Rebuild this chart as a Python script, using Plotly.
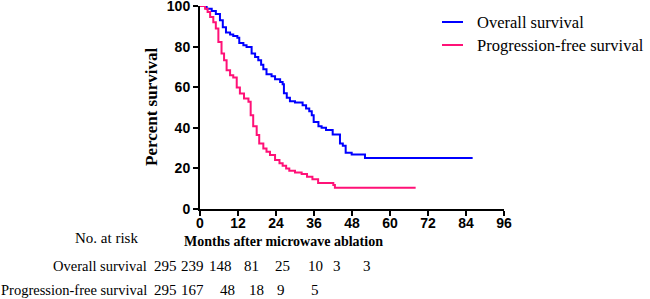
import plotly.graph_objects as go

# ---- data ----
os_months = [0, 2.1, 3.7, 5.0, 6.3, 7.2, 8.2, 9.5, 10.5, 11.8, 12.4, 13.7, 14.7, 16.3, 17.4,
             18.4, 19.3, 20.0, 21.0, 22.6, 23.7, 25.3, 26.1, 26.5, 27.4, 28.4, 30.0, 32.4,
             33.5, 34.5, 35.3, 35.9, 37.4, 38.4, 39.8, 41.9, 44.2, 45.1, 46.0, 47.9, 52.1, 86.1]
os_surv = [100, 98.7, 97.5, 96, 93, 89.5, 86.9, 86, 85.2, 84.3, 81.8, 80.7, 79.8, 76.6, 74.9,
           73.3, 71.1, 68.9, 66.4, 65.4, 63.9, 62.6, 61.5, 57, 54.8, 53.1, 52.5, 51.1,
           49.5, 48.2, 46.2, 42.9, 40.8, 40.0, 38.9, 36.7, 32.3, 31.1, 27.7, 26.9, 25.1, 25.1]

pfs_months = [0, 1.6, 2.4, 3.2, 4.2, 5.0, 5.8, 6.8, 7.6, 8.4, 9.5, 10.5, 11.6, 12.6, 13.9,
              15.3, 16.0, 16.8, 17.9, 18.7, 20.0, 21.0, 22.1, 23.7, 25.1, 26.1, 27.2, 28.2,
              30.0, 32.1, 33.8, 35.5, 37.3, 42.1, 42.6, 68.1]
pfs_surv = [100, 98.7, 97, 94.6, 92, 88.9, 82.3, 76.6, 73.3, 68.4, 65.9, 64.8, 59.8, 56.9, 54.4,
            52.8, 46.2, 40.8, 36.4, 32.3, 29.8, 28.2, 26.6, 24.1, 22.5, 21.3, 20, 18.9,
            18, 17.2, 15.9, 14.7, 12.8, 11.8, 10.5, 10.5]

x_ticks = [0, 12, 24, 36, 48, 60, 72, 84, 96]
y_ticks = [0, 20, 40, 60, 80, 100]

series_names = ["Overall survival", "Progression-free survival"]
risk_os = ["295", "239", "148", "81", "25", "10", "3", "3"]
risk_pfs = ["295", "167", "48", "18", "9", "5"]

# ---- layout constants (pixels) ----
W, H = 650, 299
L, R, T, B = 200, 146, 6, 90
PW, PH = W - L - R, H - T - B
os_cols = [165, 192.5, 220, 251, 282, 315, 337, 367]
pfs_cols = [165, 192.5, 227.5, 256, 281, 315]
legend_rows = [22, 45]

def px(x):
    return (x - L) / PW

def py(y):
    return (H - B - y) / PH

SERIF = "Liberation Serif, Times New Roman, serif"
SANS = "Liberation Sans, Arial, sans-serif"
BLUE = "#0000FF"
PINK = "#FF1177"
colors = [BLUE, PINK]

fig = go.Figure()
fig.add_trace(go.Scatter(x=os_months, y=os_surv, mode="lines", line_shape="hv",
                         line=dict(color=BLUE, width=2), name=series_names[0]))
fig.add_trace(go.Scatter(x=pfs_months, y=pfs_surv, mode="lines", line_shape="hv",
                         line=dict(color=PINK, width=2), name=series_names[1]))

axis_common = dict(showline=True, linecolor="black", linewidth=2, ticks="outside",
                   ticklen=5, tickwidth=2, tickcolor="black", showgrid=False, zeroline=False,
                   automargin=False, ticklabeloverflow="allow",
                   tickfont=dict(family=SANS, size=14, color="black", weight="bold"))
fig.update_xaxes(range=[0, 96], tickvals=x_ticks, ticklabelstandoff=-5, **axis_common)
fig.update_yaxes(range=[0, 100], tickvals=y_ticks, **axis_common)


def text_at(text, x, y, size, xanchor="center", bold=False, angle=0):
    return dict(text=f"<b>{text}</b>" if bold else text, x=px(x), y=py(y),
                xref="paper", yref="paper", xanchor=xanchor, yanchor="middle",
                textangle=angle, showarrow=False,
                font=dict(family=SERIF, size=size, color="black"))


ann = []
shapes = []
ann.append(text_at("Percent survival", 152, 107, 17, bold=True, angle=-90))
ann.append(text_at("No. at risk", 140, 238, 15, xanchor="right"))
ann.append(text_at("Months after microwave ablation", 283, 242, 14, bold=True))
ann.append(text_at(series_names[0], 149, 266.3, 14.5, xanchor="right"))
ann.append(text_at(series_names[1], 149, 289.7, 14.5, xanchor="right"))
for v, c in zip(risk_os, os_cols):
    ann.append(text_at(v, c, 266.3, 15))
for v, c in zip(risk_pfs, pfs_cols):
    ann.append(text_at(v, c, 289.7, 15))

# manual legend
for name, col, row in zip(series_names, colors, legend_rows):
    shapes.append(dict(type="line", xref="paper", yref="paper", x0=px(442), x1=px(463),
                       y0=py(row), y1=py(row), line=dict(color=col, width=2)))
    ann.append(text_at(name, 475, row, 16.5, xanchor="left"))

fig.update_layout(
    width=W, height=H,
    margin=dict(l=L, r=R, t=T, b=B, pad=0),
    paper_bgcolor="white", plot_bgcolor="white",
    showlegend=False,
    annotations=ann,
    shapes=shapes,
)

fig.write_html("out.html", config={"displayModeBar": False},
               post_script="document.body.style.margin='0';document.body.style.overflow='hidden';")
